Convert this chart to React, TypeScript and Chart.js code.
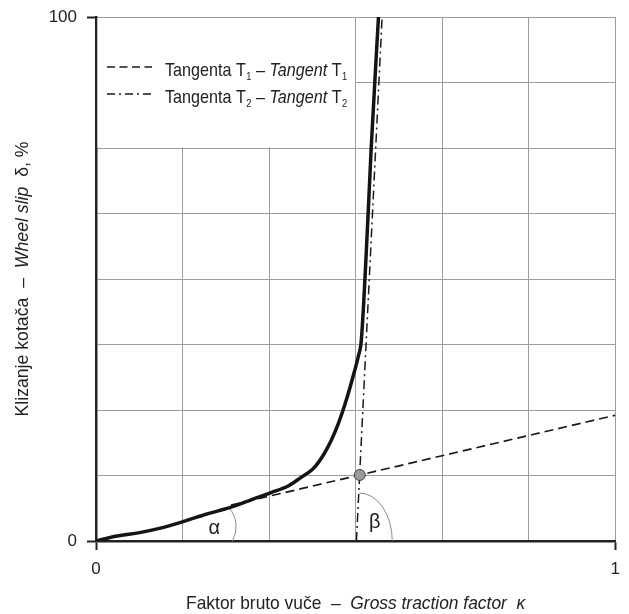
import React, { useEffect, useRef } from 'react';
import { Chart, registerables } from 'chart.js';

Chart.register(...registerables);

// ---- data ----
const curveX = [0, 0.04, 0.084, 0.122, 0.171, 0.212, 0.263, 0.301, 0.336, 0.371, 0.393, 0.422, 0.447, 0.467, 0.482, 0.495, 0.505, 0.511, 0.524, 0.53, 0.544];
const curveY = [0, 0.95, 1.6, 2.4, 3.8, 5.1, 6.55, 7.95, 9.2, 10.55, 12.0, 14.2, 18.0, 22.5, 26.9, 31.4, 35.2, 38.4, 62.3, 75.1, 100];

const tangent1X = [0.26, 1];
const tangent1Y = [6.85, 24];

const tangent2X = [0.5015, 0.551];
const tangent2Y = [0, 100];

const pointX = [0.508];
const pointY = [12.6];

const xMin = 0;
const xMax = 1;
const yMin = 0;
const yMax = 100;
const xDivisions = 6;
const yDivisions = 8;
const xLabelled = [0, 1];
const yLabelled = [0, 100];

const legendLabels = [
  { main: 'Tangenta T', sub: '1', dash: '–', italic: 'Tangent', tail: 'T', tailSub: '1' },
  { main: 'Tangenta T', sub: '2', dash: '–', italic: 'Tangent', tail: 'T', tailSub: '2' },
];
const legendBoxRight = 0.5;
const legendBoxBottom = 75;

const xTitleParts = [
  { t: 'Faktor bruto vuče  –  ', i: false },
  { t: 'Gross traction factor  κ', i: true },
];
const yTitleParts = [
  { t: 'Klizanje kotača  –  ', i: false },
  { t: 'Wheel slip', i: true },
  { t: '  δ, %', i: false },
];

const alphaArc = { x: 0.214, y: 2.7 };
const betaArc = { x: 0.507, y: 0 };
const alphaLabel = { x: 0.228, y: 2.4, text: 'α' };
const betaLabel = { x: 0.537, y: 3.6, text: 'β' };

const FONT = '"Liberation Sans", Arial, sans-serif';

function zip(xs: number[], ys: number[]) {
  return xs.map((x, i) => ({ x, y: ys[i] }));
}

function drawParts(ctx: any, parts: { t: string; i: boolean }[], size: number, cx: number, cy: number, sx: number, rot: number) {
  ctx.save();
  ctx.translate(cx, cy);
  ctx.rotate(rot);
  ctx.scale(sx, 1);
  let total = 0;
  parts.forEach((p) => {
    ctx.font = `${p.i ? 'italic ' : ''}${size}px ${FONT}`;
    total += ctx.measureText(p.t).width;
  });
  let px = -total / 2;
  ctx.textAlign = 'left';
  ctx.textBaseline = 'alphabetic';
  parts.forEach((p) => {
    ctx.font = `${p.i ? 'italic ' : ''}${size}px ${FONT}`;
    ctx.fillText(p.t, px, 0);
    px += ctx.measureText(p.t).width;
  });
  ctx.restore();
}

const overlayPlugin = {
  id: 'overlay',
  beforeDatasetsDraw(chart: any) {
    const { ctx, scales } = chart;
    const xs = scales.x;
    const ys = scales.y;
    ctx.save();
    // angle arcs
    ctx.strokeStyle = '#8c8c8c';
    ctx.lineWidth = 1;
    ctx.beginPath();
    ctx.arc(xs.getPixelForValue(alphaArc.x), ys.getPixelForValue(alphaArc.y), 29, (-41 * Math.PI) / 180, (30 * Math.PI) / 180);
    ctx.stroke();
    ctx.beginPath();
    ctx.ellipse(xs.getPixelForValue(betaArc.x), ys.getPixelForValue(betaArc.y), 33, 48, 0, -Math.PI / 2, 0);
    ctx.stroke();
    ctx.restore();
  },
  afterDraw(chart: any) {
    const { ctx, scales, chartArea } = chart;
    const xs = scales.x;
    const ys = scales.y;
    ctx.save();

    // white legend box covering the grid
    const l = xs.getPixelForValue(xMin) + 1.5;
    const r = xs.getPixelForValue(legendBoxRight) - 0.6;
    const t = ys.getPixelForValue(yMax) + 1;
    const b = ys.getPixelForValue(legendBoxBottom) - 0.6;
    ctx.fillStyle = '#ffffff';
    ctx.fillRect(l, t, r - l, b - t);

    ctx.fillStyle = '#222';

    // greek labels
    ctx.font = `20px ${FONT}`;
    ctx.textAlign = 'center';
    ctx.textBaseline = 'middle';
    ctx.fillText(alphaLabel.text, xs.getPixelForValue(alphaLabel.x), ys.getPixelForValue(alphaLabel.y));
    ctx.fillText(betaLabel.text, xs.getPixelForValue(betaLabel.x), ys.getPixelForValue(betaLabel.y));

    // legend
    ctx.textAlign = 'left';
    ctx.textBaseline = 'alphabetic';
    const sampleL = chartArea.left + 11;
    const sampleR = chartArea.left + 56;
    const textX = chartArea.left + 69;
    const rows = [chartArea.top + 50, chartArea.top + 77];
    const dashes = [[8, 4.5], [8, 4, 2, 4]];
    legendLabels.forEach((lab, i) => {
      const yy = rows[i];
      ctx.save();
      ctx.strokeStyle = '#1a1a1a';
      ctx.lineWidth = 1.6;
      ctx.setLineDash(dashes[i]);
      ctx.beginPath();
      ctx.moveTo(sampleL, yy);
      ctx.lineTo(sampleR, yy);
      ctx.stroke();
      ctx.restore();
      const base = yy + 9;
      ctx.save();
      ctx.translate(textX, base);
      ctx.scale(0.85, 1);
      let cx = 0;
      const norm = `19px ${FONT}`;
      const ital = `italic 19px ${FONT}`;
      const sub = `11px ${FONT}`;
      ctx.font = norm;
      ctx.fillText(lab.main, cx, 0);
      cx += ctx.measureText(lab.main).width + 0.5;
      ctx.font = sub;
      ctx.fillText(lab.sub, cx, 4);
      cx += ctx.measureText(lab.sub).width;
      ctx.font = norm;
      const mid = ' ' + lab.dash + ' ';
      ctx.fillText(mid, cx, 0);
      cx += ctx.measureText(mid).width;
      ctx.font = ital;
      ctx.fillText(lab.italic, cx, 0);
      cx += ctx.measureText(lab.italic + ' ').width;
      ctx.font = norm;
      ctx.fillText(lab.tail, cx, 0);
      cx += ctx.measureText(lab.tail).width + 0.5;
      ctx.font = sub;
      ctx.fillText(lab.tailSub, cx, 4);
      ctx.restore();
    });

    // axis titles
    drawParts(ctx, xTitleParts, 19, (chartArea.left + chartArea.right) / 2, 609, 0.915, 0);
    drawParts(ctx, yTitleParts, 19, 28, (chartArea.top + chartArea.bottom) / 2, 0.93, -Math.PI / 2);

    ctx.restore();
  },
};

export default function App() {
  const ref = useRef<HTMLCanvasElement>(null);

  useEffect(() => {
    if (!ref.current) return;
    const xGrid = Array.from({ length: xDivisions + 1 }, (_, i) => xMin + ((xMax - xMin) * i) / xDivisions);
    const yGrid = Array.from({ length: yDivisions + 1 }, (_, i) => yMin + ((yMax - yMin) * i) / yDivisions);
    const isLab = (arr: number[], v: number) => arr.some((a) => Math.abs(a - v) < 1e-9);

    const chart = new Chart(ref.current, {
      type: 'scatter',
      data: {
        datasets: [
          {
            label: 'point',
            data: zip(pointX, pointY),
            pointRadius: 5.5,
            pointBackgroundColor: '#9a9a9a',
            pointBorderColor: '#444',
            pointBorderWidth: 1,
            showLine: false,
          },
          {
            label: 'curve',
            data: zip(curveX, curveY),
            showLine: true,
            borderColor: '#141414',
            borderWidth: 3.5,
            pointRadius: 0,
            cubicInterpolationMode: 'monotone',
            borderJoinStyle: 'round',
            borderCapStyle: 'round',
          },
          {
            label: 'T1',
            data: zip(tangent1X, tangent1Y),
            showLine: true,
            borderColor: '#1a1a1a',
            borderWidth: 1.7,
            borderDash: [9, 5],
            pointRadius: 0,
          },
          {
            label: 'T2',
            data: zip(tangent2X, tangent2Y),
            showLine: true,
            borderColor: '#1a1a1a',
            borderWidth: 1.5,
            borderDash: [9, 4, 2, 4],
            pointRadius: 0,
          },
        ],
      },
      options: {
        animation: false,
        responsive: true,
        maintainAspectRatio: false,
        layout: { padding: { top: 17, right: 10, left: 0, bottom: 0 } },
        plugins: {
          legend: { display: false },
          tooltip: { enabled: false },
        },
        scales: {
          x: {
            type: 'linear',
            min: xMin,
            max: xMax,
            afterBuildTicks: (s: any) => {
              s.ticks = xGrid.map((v) => ({ value: v }));
            },
            afterFit: (s: any) => {
              s.height = 73;
            },
            ticks: {
              autoSkip: false,
              maxRotation: 0,
              padding: 9,
              color: '#222',
              font: { family: FONT, size: 17 },
              callback: (v: any) => (isLab(xLabelled, Number(v)) ? String(Number(v)) : ''),
            },
            grid: {
              color: '#9c9c9c',
              lineWidth: 1,
              tickLength: 9,
              tickWidth: 2,
              tickColor: (c: any) => (c.tick && isLab(xLabelled, c.tick.value) ? '#222' : 'rgba(0,0,0,0)'),
            },
            border: { color: '#222', width: 2.5 },
          },
          y: {
            type: 'linear',
            min: yMin,
            max: yMax,
            afterBuildTicks: (s: any) => {
              s.ticks = yGrid.map((v) => ({ value: v }));
            },
            afterFit: (s: any) => {
              s.width = 96;
            },
            ticks: {
              autoSkip: false,
              padding: 10,
              color: '#222',
              font: { family: FONT, size: 17, lineHeight: 0.75 },
              callback: (v: any) => (isLab(yLabelled, Number(v)) ? String(Number(v)) : ''),
            },
            grid: {
              color: '#9c9c9c',
              lineWidth: 1,
              tickLength: 9,
              tickWidth: 2,
              tickColor: (c: any) => (c.tick && isLab(yLabelled, c.tick.value) ? '#222' : 'rgba(0,0,0,0)'),
            },
            border: { color: '#222', width: 2.5 },
          },
        },
      },
      plugins: [overlayPlugin],
    } as any);
    return () => chart.destroy();
  }, []);

  return (
    <div style={{ position: 'fixed', left: 0, top: 0, width: 629, height: 614, background: '#fff' }}>
      <canvas ref={ref} />
    </div>
  );
}
